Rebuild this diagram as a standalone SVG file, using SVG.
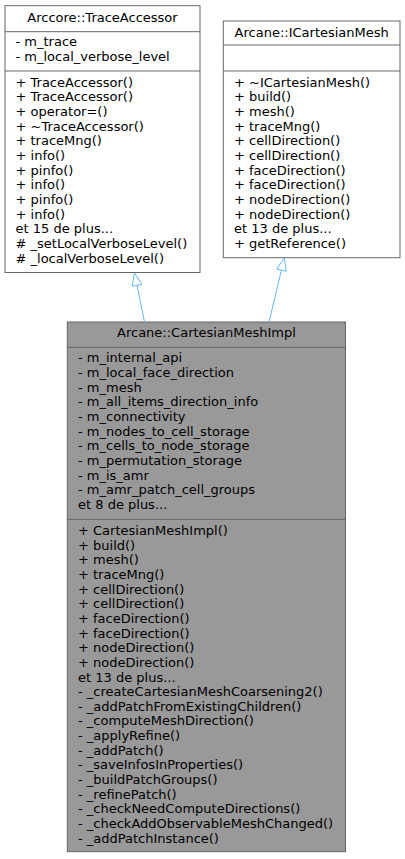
<svg xmlns="http://www.w3.org/2000/svg" width="405" height="859" viewBox="0 0 405 859">
<style>
.box{fill:#ffffff;stroke:#666666;stroke-width:1}
.gbox{fill:#999999;stroke:#666666;stroke-width:1}
.sep{stroke:#666666;stroke-width:1}
text{font-family:"DejaVu Sans","Liberation Sans",sans-serif;font-size:13px;fill:#000000}
.t{text-anchor:middle}
.edge{stroke:#63b8ff;stroke-width:1;fill:none}
.head{stroke:#63b8ff;stroke-width:1;fill:#ffffff}
</style>
<rect width="405" height="859" fill="#ffffff"/>
<g id="node-TraceAccessor">
<rect class="box" x="5" y="5.7" width="195" height="266.8"/>
<line class="sep" x1="5" y1="31.7" x2="200" y2="31.7"/>
<line class="sep" x1="5" y1="71" x2="200" y2="71"/>
<text class="t" x="102.5" y="21.7">Arccore::TraceAccessor</text>
<text x="15.5" y="45.8">- m_trace</text>
<text x="15.5" y="60.5">- m_local_verbose_level</text>
<text x="15.5" y="86.8">+ TraceAccessor()</text>
<text x="15.5" y="101.45">+ TraceAccessor()</text>
<text x="15.5" y="116.1">+ operator=()</text>
<text x="15.5" y="130.75">+ ~TraceAccessor()</text>
<text x="15.5" y="145.4">+ traceMng()</text>
<text x="15.5" y="160.05">+ info()</text>
<text x="15.5" y="174.7">+ pinfo()</text>
<text x="15.5" y="189.35">+ info()</text>
<text x="15.5" y="204">+ pinfo()</text>
<text x="15.5" y="218.65">+ info()</text>
<text x="15.5" y="233.3">et 15 de plus...</text>
<text x="15.5" y="247.95"># _setLocalVerboseLevel()</text>
<text x="15.5" y="262.6"># _localVerboseLevel()</text>
</g>
<g id="node-ICartesianMesh">
<rect class="box" x="223.3" y="21" width="176.7" height="236.7"/>
<line class="sep" x1="223.3" y1="45" x2="400" y2="45"/>
<line class="sep" x1="223.3" y1="71" x2="400" y2="71"/>
<text class="t" x="311.7" y="36.7">Arcane::ICartesianMesh</text>
<text x="234" y="86.8">+ ~ICartesianMesh()</text>
<text x="234" y="101.45">+ build()</text>
<text x="234" y="116.1">+ mesh()</text>
<text x="234" y="130.75">+ traceMng()</text>
<text x="234" y="145.4">+ cellDirection()</text>
<text x="234" y="160.05">+ cellDirection()</text>
<text x="234" y="174.7">+ faceDirection()</text>
<text x="234" y="189.35">+ faceDirection()</text>
<text x="234" y="204">+ nodeDirection()</text>
<text x="234" y="218.65">+ nodeDirection()</text>
<text x="234" y="233.3">et 13 de plus...</text>
<text x="234" y="247.95">+ getReference()</text>
</g>
<g id="node-CartesianMeshImpl">
<rect class="gbox" x="67.3" y="322" width="278.2" height="529.7"/>
<line class="sep" x1="67.3" y1="347.3" x2="345.5" y2="347.3"/>
<line class="sep" x1="67.3" y1="519.3" x2="345.5" y2="519.3"/>
<text class="t" x="206.4" y="337.3">Arcane::CartesianMeshImpl</text>
<text x="78" y="362.3">- m_internal_api</text>
<text x="78" y="376.95">- m_local_face_direction</text>
<text x="78" y="391.6">- m_mesh</text>
<text x="78" y="406.25">- m_all_items_direction_info</text>
<text x="78" y="420.9">- m_connectivity</text>
<text x="78" y="435.55">- m_nodes_to_cell_storage</text>
<text x="78" y="450.2">- m_cells_to_node_storage</text>
<text x="78" y="464.85">- m_permutation_storage</text>
<text x="78" y="479.5">- m_is_amr</text>
<text x="78" y="494.15">- m_amr_patch_cell_groups</text>
<text x="78" y="508.8">et 8 de plus...</text>
<text x="78" y="535">+ CartesianMeshImpl()</text>
<text x="78" y="549.65">+ build()</text>
<text x="78" y="564.3">+ mesh()</text>
<text x="78" y="578.95">+ traceMng()</text>
<text x="78" y="593.6">+ cellDirection()</text>
<text x="78" y="608.25">+ cellDirection()</text>
<text x="78" y="622.9">+ faceDirection()</text>
<text x="78" y="637.55">+ faceDirection()</text>
<text x="78" y="652.2">+ nodeDirection()</text>
<text x="78" y="666.85">+ nodeDirection()</text>
<text x="78" y="681.5">et 13 de plus...</text>
<text x="78" y="696.15">- _createCartesianMeshCoarsening2()</text>
<text x="78" y="710.8">- _addPatchFromExistingChildren()</text>
<text x="78" y="725.45">- _computeMeshDirection()</text>
<text x="78" y="740.1">- _applyRefine()</text>
<text x="78" y="754.75">- _addPatch()</text>
<text x="78" y="769.4">- _saveInfosInProperties()</text>
<text x="78" y="784.05">- _buildPatchGroups()</text>
<text x="78" y="798.7">- _refinePatch()</text>
<text x="78" y="813.35">- _checkNeedComputeDirections()</text>
<text x="78" y="828">- _checkAddObservableMeshChanged()</text>
<text x="78" y="842.65">- _addPatchInstance()</text>
</g>
<g id="connectors">
<g id="edge-Impl-TraceAccessor">
<line class="edge" x1="144.5" y1="322" x2="137" y2="285.25"/>
<polygon class="head" points="134.5,273 141.9,284.25 132.1,286.25"/>
</g>
<g id="edge-Impl-ICartesianMesh">
<line class="edge" x1="269" y1="322" x2="281.4" y2="270.2"/>
<polygon class="head" points="284.3,258 286.3,271.3 276.5,269"/>
</g>
</g>
</svg>
